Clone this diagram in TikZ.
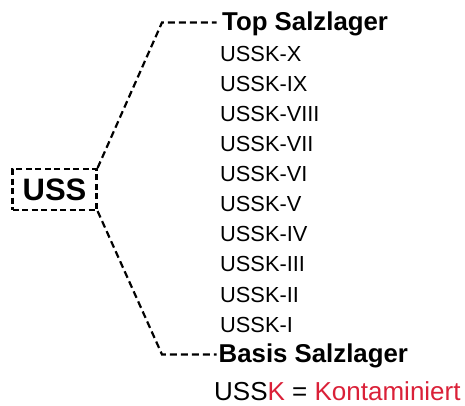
\documentclass[tikz,border=0pt]{standalone}
\usepackage{fontspec}
\setmainfont{Liberation Sans}
\definecolor{kred}{RGB}{218,32,56}
\tikzset{
  dline/.style={line width=2.2pt, dash pattern=on 7pt off 4pt},
  boxnode/.style={draw, line width=2.2pt, dash pattern=on 6pt off 3.5pt, minimum width=84pt, minimum height=41pt, inner sep=0pt, font=\fontsize{31}{31}\selectfont\bfseries},
  headtxt/.style={anchor=base west, inner sep=0pt, font=\fontsize{25.8}{25.8}\selectfont\bfseries},
  itemtxt/.style={anchor=base west, inner sep=0pt, font=\fontsize{21.8}{21.8}\selectfont},
  legtxt/.style={anchor=base west, inner sep=0pt, font=\fontsize{26}{26}\selectfont}
}
\begin{document}
\begin{tikzpicture}[x=1pt,y=-1pt]
\useasboundingbox (0,0) rectangle (465,405);
\node[boxnode] (uss) at (54.5,189.5) {USS};
\node[headtxt] (top) at (222,30.5) {Top Salzlager};
\foreach \n [count=\i from 0] in {X,IX,VIII,VII,VI,V,IV,III,II,I}{
  \node[itemtxt] (k\i) at (220,61.6+30.05*\i) {USSK-\n};
}
\node[headtxt] (basis) at (218.5,362.8) {Basis Salzlager};
\node[legtxt] (leg) at (214,400.6) {USS\textcolor{kred}{K} = \textcolor{kred}{Kontaminiert}};
\coordinate (tbend) at (162,22.5);
\coordinate (bbend) at (162,354.5);
\coordinate (tend) at (216.5,22.5);
\coordinate (bend) at (216.5,354.5);
\draw[dline] (uss.north east) -- (tbend) -- (tend);
\draw[dline] (uss.south east) -- (bbend) -- (bend);
\end{tikzpicture}
\end{document}
